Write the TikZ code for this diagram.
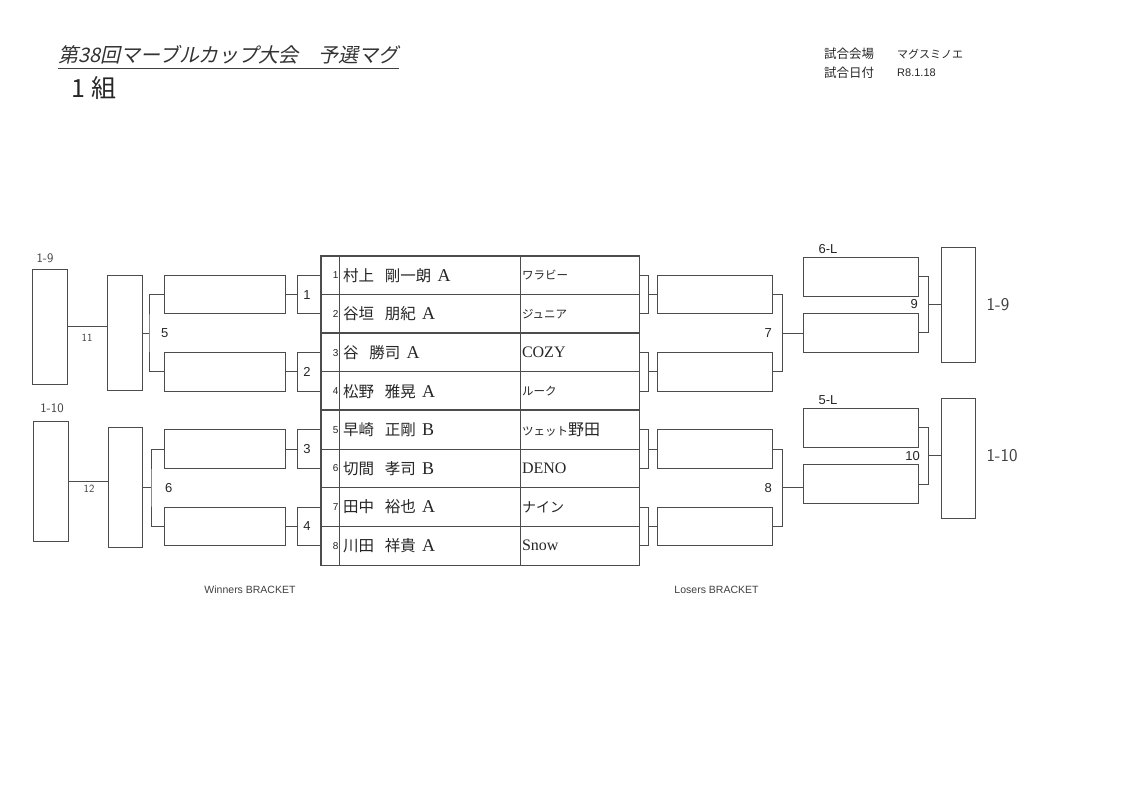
\documentclass[tikz,border=0pt]{standalone}
\usepackage{fontspec}
\setmainfont{Liberation Serif}
\newfontfamily\jp{Noto Sans CJK JP}
\newfontfamily\jpslant[FakeSlant=0.22]{Noto Sans CJK JP}
\newfontfamily\hv{Liberation Sans}
\usetikzlibrary{calc}
\colorlet{ink}{black!70}
\colorlet{lead}{black!85}
\newcommand\kana[2][11.5]{{\jp\fontsize{#1}{#1}\selectfont #2}}
\newcommand\pname[3]{{\jp\fontsize{15.5}{18}\selectfont #1\hspace{11pt}#2}\hspace{6pt}{\fontsize{18}{18}\selectfont #3}}
\tikzset{
	box/.style 2 args={draw=ink, line width=0.9pt, inner sep=0pt, minimum width=#1pt, minimum height=#2pt},
	cell/.style={draw=ink, line width=0.9pt, inner ysep=0pt, minimum height=38.625pt, text=lead, font=\fontsize{16}{18}\selectfont},
	wire/.style={draw=ink, line width=0.8pt},
	frame/.style={draw=ink, line width=1.5pt},
	num/.style={text=lead, font=\hv\fontsize{13}{13}\selectfont, inner sep=0pt},
	hand/.style={text=black!75, font=\sffamily\fontsize{#1}{#1}\selectfont, inner sep=0pt},
	head/.style={text=lead, anchor=west, inner sep=0pt}
}

\begin{document}
\begin{tikzpicture}[x=1pt, y=-1pt]
		%%%%% START %%%%%
		\fill[white] (0,0) rectangle (1123,794);
		\useasboundingbox (0,0) rectangle (1123,794);
		
		% title and header
		\node[head, anchor=base west, text=black!80, font=\jpslant\fontsize{20}{20}\selectfont] (title) at (58,62.5) {第38回マーブルカップ大会　予選マグ};
		\draw[black!75, line width=0.7pt] ([yshift=-5.5pt]title.base west) -- ([yshift=-5.5pt]title.base east);
		\node[head, font=\jp\fontsize{25}{25}\selectfont] (group) at (71,88) {1\hspace{6pt}組};
		\node[head, font=\jp\fontsize{12.5}{13}\selectfont] (venue) at (824,54) {試合会場};
		\node[head, font=\jp\fontsize{11}{13}\selectfont] (venuename) at (897,54) {マグスミノエ};
		\node[head, font=\jp\fontsize{12.5}{13}\selectfont] (date) at (824,73) {試合日付};
		\node[head, font=\hv\fontsize{11}{13}\selectfont] (dateval) at (897,73) {R8.1.18};
		
		% first round boxes, both sides
		\foreach \k/\cy in {1/294.625, 2/371.875, 3/449.125, 4/526.375}{
			\node[box={24}{38.625}] (m\k) at (309,\cy) {};
			\node[num] (mt\k) at ([xshift=-2pt]m\k.center) {\k};
			\node[box={121}{38.625}] (w\k) at (224.5,\cy) {};
			\draw[wire] (m\k.west) -- (w\k.east);
			\node[box={9}{38.625}] (n\k) at (643.5,\cy) {};
			\node[box={115}{38.625}] (l\k) at (714.5,\cy) {};
			\draw[wire] (n\k.east) -- (l\k.west);
		}
		
		% entry table
		\foreach \i/\nm/\tm in {
			1/{\pname{村上}{剛一朗}{A}}/{\kana{ワラビー}},
			2/{\pname{谷垣}{朋紀}{A}}/{\kana{ジュニア}},
			3/{\pname{谷}{勝司}{A}}/{COZY},
			4/{\pname{松野}{雅晃}{A}}/{\kana{ルーク}},
			5/{\pname{早崎}{正剛}{B}}/{\kana{ツェット}\kana[16]{野田}},
			6/{\pname{切間}{孝司}{B}}/{DENO},
			7/{\pname{田中}{裕也}{A}}/{\kana[14]{ナイン}},
			8/{\pname{川田}{祥貴}{A}}/{Snow}}{
			\pgfmathsetmacro\ry{256+(\i-0.5)*38.625}
			\node[cell, text width=17pt, inner xsep=0.5pt, align=right, font=\hv\fontsize{10}{10}\selectfont] (k\i) at (330,\ry) {\i};
			\node[cell, text width=173pt, inner xsep=4pt, align=left] (p\i) at (429.5,\ry) {\nm};
			\node[cell, text width=115pt, inner xsep=2pt, align=left] (q\i) at (579.5,\ry) {\tm};
		}
		\draw[frame] (k1.north west) rectangle (q8.south east);
		\draw[frame] (p1.north east) -- (p8.south east);
		\foreach \i in {3,5,7} \draw[frame] (k\i.north west) -- (q\i.north east);
		
		% winners bracket
		\node[box={35}{115}] (t1) at (124.5,333.25) {};
		\node[box={34}{120}] (t2) at (125,487.75) {};
		\coordinate (j5) at (149,333.25);
		\coordinate (j6) at (151,487.75);
		\draw[wire] (w1.west) -| (j5) |- (w2.west);
		\draw[wire] (j5) -- (t1.east);
		\draw[wire] (w3.west) -| (j6) |- (w4.west);
		\draw[wire] (j6) -- (t2.east);
		\node[num, anchor=west] (lab5) at (161,333.25) {5};
		\node[num, anchor=west] (lab6) at (165,487.75) {6};
		
		\node[box={35}{115}] (f1) at (49.5,326.5) {};
		\node[box={35}{120}] (f2) at (50.5,481) {};
		\draw[wire] (f1.east) -- (f1.east -| t1.west);
		\draw[wire] (f2.east) -- (f2.east -| t2.west);
		\node[hand=11] (lab11) at (87,338) {11};
		\node[hand=11] (lab12) at (89,489) {12};
		\node[hand=13] (top1) at (45,258) {1-9};
		\node[hand=13] (top2) at (52,408) {1-10};
		
		% losers bracket
		\node[box={115}{39}] (rA) at (860.5,276.5) {};
		\node[box={115}{39}] (rB) at (860.5,332.5) {};
		\node[box={115}{39}] (rC) at (860.5,427.5) {};
		\node[box={115}{39}] (rD) at (860.5,484) {};
		\coordinate (j7) at (782,333.25);
		\coordinate (j8) at (782,487.75);
		\draw[wire] (l1.east) -| (j7) |- (l2.east);
		\draw[wire] (j7) -- (j7 -| rB.west);
		\draw[wire] (l3.east) -| (j8) |- (l4.east);
		\draw[wire] (j8) -- (j8 -| rD.west);
		\node[num, anchor=east] (lab7) at (772,333.25) {7};
		\node[num, anchor=east] (lab8) at (772,487.75) {8};
		\node[num] (fromA) at (828,249) {6-L};
		\node[num] (fromC) at (828,400) {5-L};
		
		\node[box={34}{115}] (g1) at (958,304.5) {};
		\node[box={34}{120}] (g2) at (958,458) {};
		\coordinate (j9) at (928,304.5);
		\coordinate (j10) at (928,455.75);
		\draw[wire] (rA.east) -| (j9) |- (rB.east);
		\draw[wire] (j9) -- (g1.west);
		\draw[wire] (rC.east) -| (j10) |- (rD.east);
		\draw[wire] (j10) -- (j10 -| g2.west);
		\node[num, anchor=east] (lab9) at (918,304.5) {9};
		\node[num, anchor=east] (lab10) at (920,455.75) {10};
		\node[hand=18] (side1) at (998,305) {1-9};
		\node[hand=18] (side2) at (1002,456) {1-10};
		
		% bracket captions
		\node[text=black!75, font=\hv\fontsize{10.5}{11}\selectfont] (wcap) at (250,590) {Winners BRACKET};
		\node[text=black!75, font=\hv\fontsize{10.5}{11}\selectfont] (lcap) at (716.5,590) {Losers BRACKET};
		%%%%% END %%%%%
	\end{tikzpicture}
\end{document}
